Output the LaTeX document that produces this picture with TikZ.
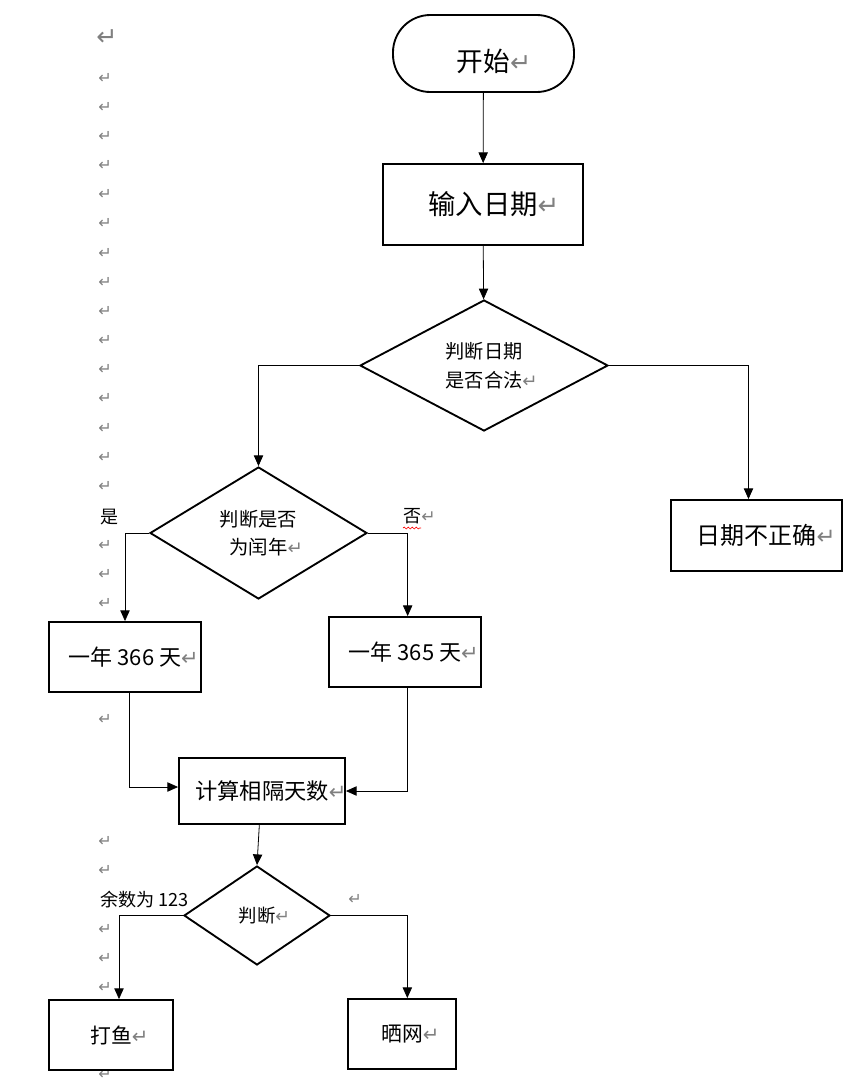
\documentclass[tikz,border=0pt]{standalone}
\usepackage{fontspec}
\usepackage{graphicx}
\setmainfont{Noto Sans CJK SC}
\newfontfamily\symfont{DejaVu Sans}
\usetikzlibrary{shapes.geometric,arrows.meta,decorations.pathmorphing}
% grey return mark after a text, kept out of the centring
\newcommand{\retmark}{\rlap{\textcolor{gray}{\symfont\scalebox{0.95}{↵}}}}
\begin{document}
\begin{tikzpicture}[x=0.75pt,y=-0.75pt,
    box/.style={draw,line width=1.4pt,fill=white,inner sep=0pt},
    choice/.style={diamond,draw,line width=1.4pt,fill=white,inner sep=0pt,align=center},
    flow/.style={-{Triangle[length=8pt,width=7pt]},line width=0.6pt},
    retnote/.style={text=gray,font=\symfont\fontsize{12}{12}\selectfont,inner sep=0pt}]
  \useasboundingbox[fill=white] (0,0) rectangle (845,1083);
  % return marks down the left margin
  \node[retnote,font=\symfont\fontsize{19}{19}\selectfont] (m0) at (107,38) {↵};
  \foreach \y in {78,107,136,165,194,223,253,282,311,340,369,398,428,457,486,545,574,603,719,841,870,929,958,987,1074}
    \node[retnote] (m\y) at (105,\y) {↵};
  \node[retnote] (mr) at (355,899) {↵};

  \node[box,rounded corners=28pt,minimum width=135.75pt,minimum height=57.75pt,font=\fontsize{20}{24}\selectfont] (start) at (483.5,53.5) {\raisebox{-6pt}[\height][\depth]{开始\retmark}};
  \node[box,minimum width=150pt,minimum height=60.75pt,font=\fontsize{20.5}{24}\selectfont] (input) at (483,204.5) {输入日期\retmark};
  \node[choice,minimum width=186pt,minimum height=98.25pt,font=\fontsize{14.4}{21.75}\selectfont] (check) at (484,365.5) {判断日期\\是否合法\retmark};
  \node[box,minimum width=128.25pt,minimum height=53.25pt,font=\fontsize{18}{22}\selectfont] (wrong) at (756.5,535.5) {日期不正确\retmark};
  \node[choice,minimum width=162.75pt,minimum height=99pt,font=\fontsize{14.5}{20.5}\selectfont] (leap) at (258.5,533) {判断是否\\为闰年\retmark};
  \node[box,minimum width=114pt,minimum height=52.5pt,font=\fontsize{16.5}{20}\selectfont] (y366) at (125,657) {一年 366 天\retmark};
  \node[box,minimum width=114pt,minimum height=52.5pt,font=\fontsize{16.5}{20}\selectfont] (y365) at (405,652) {一年 365 天\retmark};
  \node[box,minimum width=124.5pt,minimum height=49.5pt,font=\fontsize{16.7}{20}\selectfont] (calc) at (262,791) {计算相隔天数\retmark};
  \node[choice,minimum width=109.5pt,minimum height=74.25pt,font=\fontsize{13.8}{16}\selectfont] (judge) at (257,915.5) {判断\retmark};
  \node[box,minimum width=93pt,minimum height=52.5pt,font=\fontsize{15.6}{18}\selectfont] (fish) at (111,1035) {打鱼\retmark};
  \node[box,minimum width=81pt,minimum height=52.5pt,font=\fontsize{15.6}{18}\selectfont] (net) at (402,1034) {晒网\retmark};

  % branch labels
  \node[anchor=west,inner sep=0pt,font=\fontsize{13.5}{14}\selectfont] (yes) at (100,517) {是};
  \node[anchor=west,inner sep=0pt,font=\fontsize{13.5}{14}\selectfont] (no) at (403,516) {否\retmark};
  \draw[red,line width=0.5pt,decorate,decoration={snake,amplitude=0.7pt,segment length=3pt}] (403,528) -- (421,528);
  \node[anchor=west,inner sep=0pt,font=\fontsize{13.6}{15}\selectfont] (rest) at (100,900) {余数为 123};

  \draw[flow] (start) -- (input);
  \draw[flow] (input) -- (check);
  \draw[flow] (check.west) -| (leap.north);
  \draw[flow] (check.east) -| ([xshift=-6pt]wrong.north);
  \draw[flow] (leap.west) -| (y366.north);
  \draw[flow] (leap.east) -| ([xshift=2pt]y365.north);
  \draw[flow] ([xshift=3pt]y366.south) |- ([yshift=3pt]calc.west);
  \draw[flow] ([xshift=2pt]y365.south) |- (calc.east);
  \draw[flow] ([xshift=-2pt]calc.south) -- (judge.north);
  \draw[flow] (judge.west) -| ([xshift=6pt]fish.north);
  \draw[flow] (judge.east) -| ([xshift=4pt]net.north);
\end{tikzpicture}
\end{document}
